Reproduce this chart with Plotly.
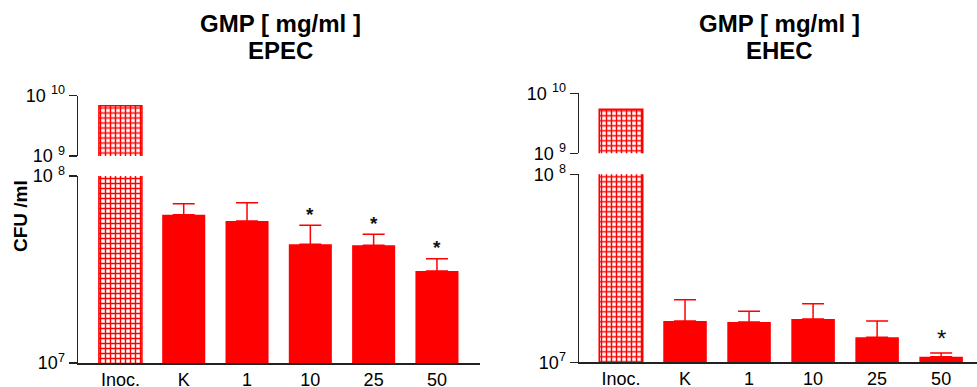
import numpy as np
import plotly.graph_objects as go

# ---------------- data ----------------
categories = ["Inoc.", "K", "1", "10", "25", "50"]

epec_mean = [6.8e9, 6.2e7, 5.75e7, 4.32e7, 4.26e7, 3.10e7]
epec_err = [0, 0.90e7, 1.45e7, 1.13e7, 0.62e7, 0.51e7]
epec_sig = [False, False, False, True, True, True]

ehec_mean = [5.4e9, 1.66e7, 1.64e7, 1.70e7, 1.36e7, 1.07e7]
ehec_err = [0, 0.49e7, 0.23e7, 0.35e7, 0.30e7, 0.05e7]
ehec_sig = [False, False, False, False, False, True]

panel_titles = ["GMP [ mg/ml ]<br>EPEC", "GMP [ mg/ml ]<br>EHEC"]
y_title = "CFU /ml"
upper_ticks = [1e9, 1e10]
upper_ticktext = ["10 <sup>9</sup>", "10 <sup>10</sup>"]
lower_ticks = [1e7, 1e8]
lower_ticktext = ["10<sup>7</sup>", "10 <sup>8</sup>"]

# ---------------- style ----------------
W, H = 977, 387
FONT = "Arial, Liberation Sans, sans-serif"
RED = "#ff0000"
AX = "#222222"

fig = go.Figure()

def px_x(p):
    return p / W

def px_y(p):
    return 1 - p / H

panels = [
    dict(mean=epec_mean, err=epec_err, sig=epec_sig, xl="x", yl="y", xu="x2", yu="y2",
         xdom=[px_x(78), px_x(480)], xr=[-0.67, 5.68],
         ylow=[px_y(363), px_y(176)], yup=[px_y(156), px_y(95.5)],
         title=panel_titles[0], tx=280, star=dict(size=19, bold=True), shift=11),
    dict(mean=ehec_mean, err=ehec_err, sig=ehec_sig, xl="x3", yl="y3", xu="x4", yu="y4",
         xdom=[px_x(579), 1.0], xr=[-0.656, 5.56],
         ylow=[px_y(362.3), px_y(174.3)], yup=[px_y(153.3), px_y(93.3)],
         title=panel_titles[1], tx=779, star=dict(size=24, bold=False), shift=15),
]

hatch = dict(shape="+", fgcolor=RED, bgcolor="white", size=5, solidity=0.5, fillmode="replace")

for p in panels:
    # Inoculum bar (hatched) in both segments
    for xa, ya in [(p["xl"], p["yl"]), (p["xu"], p["yu"])]:
        fig.add_trace(go.Bar(
            x=categories[:1], y=p["mean"][:1], xaxis=xa, yaxis=ya, width=0.68,
            marker=dict(color="white", pattern=hatch, line=dict(color=RED, width=1.5)),
            showlegend=False, hoverinfo="skip"))
    # treatment bars
    fig.add_trace(go.Bar(
        x=categories[1:], y=p["mean"][1:], xaxis=p["xl"], yaxis=p["yl"], width=0.68,
        marker=dict(color=RED, line=dict(width=0)),
        error_y=dict(type="data", symmetric=False, array=p["err"][1:],
                     arrayminus=[0] * (len(categories) - 1),
                     color=RED, thickness=1.5, width=11),
        showlegend=False, hoverinfo="skip"))
    # significance stars
    for i, (m, e, s) in enumerate(zip(p["mean"], p["err"], p["sig"])):
        if s:
            txt = "<b>*</b>" if p["star"]["bold"] else "*"
            fig.add_annotation(x=i, y=np.log10(m + e), xref=p["xl"], yref=p["yl"],
                               text=txt, showarrow=False, yanchor="middle",
                               yshift=p["shift"],
                               font=dict(family=FONT, size=p["star"]["size"], color="#111"))
    # title
    line1, line2 = p["title"].split("<br>")
    fig.add_annotation(x=px_x(p["tx"]), y=px_y(23.5), xref="paper", yref="paper",
                       text=f"<b>{line1}</b>", showarrow=False, xanchor="center", yanchor="middle",
                       font=dict(family=FONT, size=24, color="black"))
    fig.add_annotation(x=px_x(p["tx"]), y=px_y(50.5), xref="paper", yref="paper",
                       text=f"<b>{line2}</b>", showarrow=False, xanchor="center", yanchor="middle",
                       font=dict(family=FONT, size=24, color="black"))
    # break marks on the y axis
    for ya, val, lw in [(p["yu"], 9, 3), (p["yl"], 8, 2)]:
        fig.add_shape(type="line", xref=f"{p['xl']} domain", yref=ya,
                      x0=-7 / ((p["xdom"][1] - p["xdom"][0]) * W),
                      x1=5 / ((p["xdom"][1] - p["xdom"][0]) * W),
                      y0=val, y1=val, line=dict(color="black", width=lw))

axis_common = dict(showgrid=False, zeroline=False, linecolor=AX, linewidth=1.5,
                   automargin=False)

layout = dict(
    width=W, height=H, margin=dict(l=0, r=0, t=0, b=0, autoexpand=False),
    paper_bgcolor="white", plot_bgcolor="white", showlegend=False,
    bargap=0.3, font=dict(family=FONT, color="black"),
)

for i, p in enumerate(panels):
    xl = "xaxis" if p["xl"] == "x" else "xaxis" + p["xl"][1:]
    xu = "xaxis" + p["xu"][1:]
    yl = "yaxis" if p["yl"] == "y" else "yaxis" + p["yl"][1:]
    yu = "yaxis" + p["yu"][1:]
    layout[xl] = dict(domain=p["xdom"], anchor=p["yl"], type="category",
                      categoryorder="array", categoryarray=categories,
                      range=p["xr"], showline=True, ticks="",
                      tickfont=dict(family=FONT, size=18, color="black"), **axis_common)
    layout[xu] = dict(domain=p["xdom"], anchor=p["yu"], type="category",
                      categoryorder="array", categoryarray=categories,
                      range=p["xr"], visible=False, matches=p["xl"], automargin=False)
    layout[yl] = dict(domain=p["ylow"], anchor=p["xl"], type="log", range=[7, 8],
                      tickvals=lower_ticks, ticktext=lower_ticktext, showline=True,
                      ticks="outside", ticklen=8, tickwidth=1.5, tickcolor=AX,
                      tickfont=dict(family=FONT, size=18, color="black"), **axis_common)
    layout[yu] = dict(domain=p["yup"], anchor=p["xu"], type="log", range=[9, 10],
                      tickvals=upper_ticks, ticktext=upper_ticktext, showline=True,
                      ticks="outside", ticklen=8, tickwidth=1.5, tickcolor=AX,
                      tickfont=dict(family=FONT, size=18, color="black"), **axis_common)

fig.update_layout(**layout)

fig.add_annotation(x=px_x(20), y=px_y(216), xref="paper", yref="paper",
                   text=f"<b>{y_title}</b>", textangle=-90, showarrow=False,
                   xanchor="center", yanchor="middle",
                   font=dict(family=FONT, size=19, color="black"))

fig.write_html("out.html", config={"displayModeBar": False, "staticPlot": True},
               post_script="document.body.style.margin='0';document.body.style.overflow='hidden';")
